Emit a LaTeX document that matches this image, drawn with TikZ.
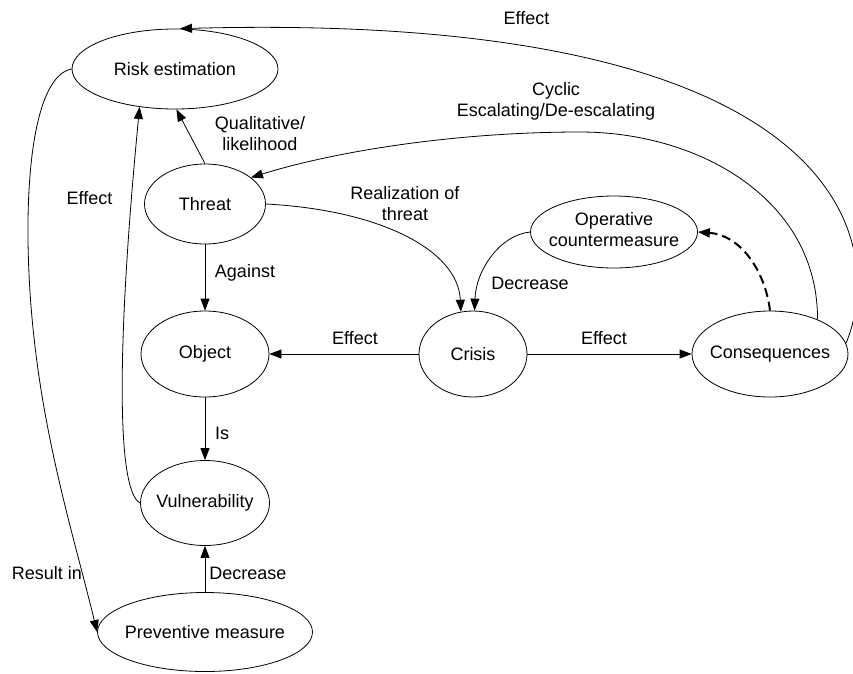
\documentclass[tikz,border=0pt]{standalone}
\usepackage{fontspec}
\setmainfont{Liberation Sans}
\usetikzlibrary{shapes.geometric,arrows.meta}
\begin{document}
\begin{tikzpicture}[x=1pt,y=-1pt,
  every node/.style={font=\fontsize{18}{21}\selectfont},
  el/.style={ellipse, draw, line width=0.8pt, inner sep=0pt},
  lbl/.style={align=center, inner sep=0pt},
  conn/.style={line width=0.8pt, -{Triangle[length=12pt,width=9pt]}},
  dconn/.style={line width=2pt, dash pattern=on 9pt off 5pt, -{Triangle[length=12pt,width=9pt]}},
  ]
\useasboundingbox (0,0) rectangle (853,673);
% nodes
\node[el, minimum width=206pt, minimum height=80pt] (risk) at (175,69) {\makebox[0pt]{Risk estimation}};
\node[el, minimum width=121pt, minimum height=80pt] (threat) at (205,204) {\makebox[0pt]{Threat}};
\node[el, minimum width=128pt, minimum height=86pt] (object) at (205,354) {\makebox[0pt]{Object}};
\node[el, minimum width=129pt, minimum height=85pt] (vuln) at (205,503) {\makebox[0pt]{Vulnerability}};
\node[el, minimum width=215pt, minimum height=79pt] (prev) at (205,632) {\makebox[0pt]{Preventive measure}};
\node[el, minimum width=108pt, minimum height=86pt] (crisis) at (473,354) {\makebox[0pt]{Crisis}};
\node[el, minimum width=156pt, minimum height=86pt] (conseq) at (770,354) {\makebox[0pt]{Consequences}};
\node[el, minimum width=167pt, minimum height=72pt] (oper) at (614,232) {\makebox[0pt]{\begin{tabular}{@{}c@{}}Operative\\countermeasure\end{tabular}}};
% connectors
\draw[conn] (conseq.8) .. controls (885,250) and (860,10) .. (risk.83);
\draw[conn] (conseq.36) .. controls (818,200) and (700,132) .. (580,132)
   .. controls (460,132) and (340,150) .. (threat.30);
\draw[conn] (threat.north) -- (risk.-88);
\draw[conn] (vuln.west) .. controls (115,490) and (118,330) .. (risk.-133);
\draw[conn] (risk.west) .. controls (40,75) and (27,150) .. (28,240)
   .. controls (30,400) and (70,520) .. (prev.west);
\draw[conn] (threat.east) .. controls (380,210) and (458,250) .. (crisis.106);
\draw[conn] (oper.west) .. controls (500,235) and (476,270) .. (crisis.88);
\draw[conn] (crisis.west) -- (object.east);
\draw[conn] (crisis.east) -- (conseq.west);
\draw[conn] (threat.south) -- (object.north);
\draw[conn] (object.south) -- (vuln.north);
\draw[conn] (prev.north) -- (vuln.south);
\draw[dconn] (conseq.north) .. controls (765,270) and (740,235) .. (oper.east);
% labels
\node[lbl] (l1) at (526.5,18) {Effect};
\node[lbl] (l2) at (556,101.5) {Cyclic\\Escalating/De-escalating};
\node[lbl] (l3) at (260,133.5) {Qualitative/\\likelihood};
\node[lbl] (l4) at (89.5,198) {Effect};
\node[lbl] (l5) at (405,203.5) {Realization of\\threat};
\node[lbl] (l6) at (245,273) {Against};
\node[lbl] (l7) at (355,338) {Effect};
\node[lbl] (l8) at (604,338) {Effect};
\node[lbl] (l9) at (530,283) {Decrease};
\node[lbl] (l10) at (222,433) {Is};
\node[lbl] (l11) at (47,573) {Result in};
\node[lbl] (l12) at (248,573) {Decrease};
\end{tikzpicture}
\end{document}
